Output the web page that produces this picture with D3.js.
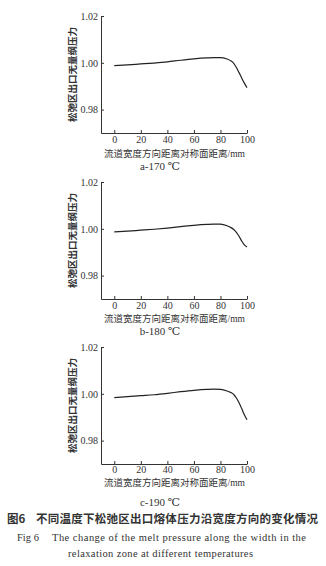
<!DOCTYPE html>
<html>
<head>
<meta charset="utf-8">
<script src="https://cdn.jsdelivr.net/npm/d3@7"></script>
<style>
  body { margin: 0; background: #fff; }
  svg { display: block; }
  .tick text { font-family: "Liberation Serif", "DejaVu Serif", serif; font-size: 10px; fill: #333; }
  .domain, .tick line { stroke: #333; stroke-width: 1; }
  .cjk { font-family: "Noto Sans CJK SC", sans-serif; fill: #333; }
  .ser { font-family: "Liberation Serif", "DejaVu Serif", serif; fill: #333; }
</style>
</head>
<body>
<script>
// data
var xTicks = [0, 20, 40, 60, 80, 100];
var yTicks = [0.98, 1.00, 1.02];
var dist = [0, 10, 20, 30, 40, 50, 60, 70, 75, 80, 85, 88, 90, 92, 94, 96, 98, 100];
var p170 = [0.9988, 0.9991, 0.9995, 0.9999, 1.0004, 1.0011, 1.0017, 1.0021, 1.0022, 1.0022, 1.0016, 1.0008, 0.9998, 0.9980, 0.9958, 0.9935, 0.9913, 0.9894];
var p180 = [0.9987, 0.9990, 0.9994, 0.9998, 1.0003, 1.0009, 1.0015, 1.0019, 1.0020, 1.0020, 1.0013, 1.0005, 0.9997, 0.9985, 0.9968, 0.9948, 0.9931, 0.9922];
var p190 = [0.9984, 0.9988, 0.9992, 0.9996, 1.0002, 1.0009, 1.0015, 1.0019, 1.0020, 1.0019, 1.0012, 1.0005, 0.9997, 0.9982, 0.9962, 0.9937, 0.9910, 0.9889];
var series = [p170, p180, p190];
var captions = ["a-170 ℃", "b-180 ℃", "c-190 ℃"];
var yTitle = "松弛区出口无量纲压力";
var xTitle = "流道宽度方向距离对称面距离";
var xUnit = "/mm";
var figNo = "图6";
var figTitle = "不同温度下松弛区出口熔体压力沿宽度方向的变化情况";
var figEn1a = "Fig 6";
var figEn1b = "The change of the melt pressure along the width in the";
var figEn2 = "relaxation zone at different temperatures";

var W = 326, H = 566;
var svg = d3.select("body").append("svg").attr("width", W).attr("height", H);

// layout of the three panels
var tops = [16, 182, 347];
var plotH = 117;
var tickPad = [3, 3, 2];
var xLabelDy = [24, 23, 22];
var capDy = [37, 36, 42];

var x = d3.scaleLinear().domain([-10, 100]).range([101, 247]);

series.forEach(function(vals, i) {
  var top = tops[i];
  var bottom = top + plotH;
  var y = d3.scaleLinear().domain([0.97, 1.02]).range([bottom, top]);
  var g = svg.append("g");

  g.append("g")
    .attr("transform", "translate(0," + bottom + ")")
    .call(d3.axisBottom(x).tickValues(xTicks).tickSizeInner(-3).tickSizeOuter(0).tickPadding(tickPad[i]));

  g.append("g")
    .attr("transform", "translate(101,0)")
    .call(d3.axisLeft(y).tickValues(yTicks).tickFormat(d3.format(".2f")).tickSizeInner(-3).tickSizeOuter(0).tickPadding(3));

  var line = d3.line()
    .x(function(d) { return x(d[0]); })
    .y(function(d) { return y(d[1]); })
    .curve(d3.curveMonotoneX);

  g.append("path")
    .datum(d3.zip(dist, vals))
    .attr("d", line)
    .attr("fill", "none")
    .attr("stroke", "#222")
    .attr("stroke-width", 1.2);

  g.append("text")
    .attr("class", "cjk")
    .attr("transform", "translate(76," + ((top + bottom) / 2) + ") rotate(-90)")
    .attr("text-anchor", "middle")
    .attr("font-size", "9.5px")
    .attr("font-weight", "bold")
    .text(yTitle);

  var xt = g.append("text")
    .attr("x", 174.5)
    .attr("y", bottom + xLabelDy[i])
    .attr("text-anchor", "middle")
    .attr("font-size", "9.5px");
  xt.append("tspan").attr("class", "cjk").text(xTitle);
  xt.append("tspan").attr("class", "ser").text(xUnit);

  g.append("text")
    .attr("class", "ser")
    .attr("x", 160)
    .attr("y", bottom + capDy[i])
    .attr("text-anchor", "middle")
    .attr("font-size", "11px")
    .text(captions[i]);
});

// figure caption
svg.append("text").attr("class", "cjk").attr("x", 7).attr("y", 523)
  .attr("font-size", "11.5px").attr("font-weight", "bold").text(figNo);
svg.append("text").attr("class", "cjk").attr("x", 36).attr("y", 523)
  .attr("font-size", "11.5px").attr("font-weight", "bold")
  .attr("textLength", 282).attr("lengthAdjust", "spacing").text(figTitle);

svg.append("text").attr("class", "ser").attr("x", 17).attr("y", 541)
  .attr("font-size", "10.5px").text(figEn1a);
svg.append("text").attr("class", "ser").attr("x", 52).attr("y", 541)
  .attr("font-size", "10.5px").attr("textLength", 254).attr("lengthAdjust", "spacing").text(figEn1b);
svg.append("text").attr("class", "ser").attr("x", 68).attr("y", 557)
  .attr("font-size", "10.5px").attr("textLength", 185).attr("lengthAdjust", "spacing").text(figEn2);
</script>
</body>
</html>
